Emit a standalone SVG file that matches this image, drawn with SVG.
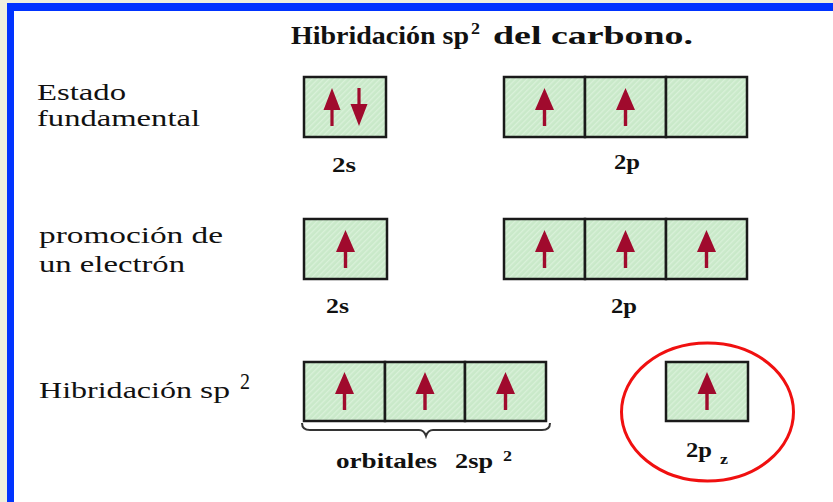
<svg xmlns="http://www.w3.org/2000/svg" xmlns:xlink="http://www.w3.org/1999/xlink" width="833" height="502" viewBox="0 0 833 502">
<style>
.lbl{font-family:"Liberation Serif","Times New Roman",serif;font-size:24px;fill:#111}
.b{font-family:"Liberation Serif","Times New Roman",serif;font-weight:bold;fill:#111}
.box{fill:url(#hatch);stroke:#1a1a1a;stroke-width:2.5}
.arr{fill:#A00A2D}
</style>
<defs>
<pattern id="hatch" width="4" height="4" patternUnits="userSpaceOnUse" patternTransform="rotate(45)">
<rect width="4" height="4" fill="#C9E9C9"/>
<rect width="1.3" height="4" fill="#D9F1D9"/>
</pattern>
<path id="up" class="arr" d="M0,-19 L9.5,3 L1.7,3 L1.7,19 L-1.7,19 L-1.7,3 L-9.5,3 Z"/>
<path id="up2" class="arr" d="M0,-19 L8.5,3 L1.6,3 L1.6,19 L-1.6,19 L-1.6,3 L-8.5,3 Z"/>
</defs>
<rect width="833" height="502" fill="#EEF0DE"/>
<rect x="7" y="3" width="826" height="499" fill="#0033FF"/>
<rect x="14" y="11" width="819" height="491" fill="#FFFFFF"/>

<g id="title">
<text class="b" font-size="26" x="291" y="44" textLength="178" lengthAdjust="spacingAndGlyphs">Hibridación sp</text>
<text class="b" font-size="16" x="471" y="34" textLength="9" lengthAdjust="spacingAndGlyphs">2</text>
<text class="b" font-size="26" x="493" y="44" textLength="200" lengthAdjust="spacingAndGlyphs">del carbono.</text>
</g>

<g id="label-estado">
<text class="lbl" x="37" y="100" textLength="89" lengthAdjust="spacingAndGlyphs">Estado</text>
<text class="lbl" x="37" y="126" textLength="163" lengthAdjust="spacingAndGlyphs">fundamental</text>
</g>
<g id="label-promocion">
<text class="lbl" x="39" y="243" textLength="184" lengthAdjust="spacingAndGlyphs">promoción de</text>
<text class="lbl" x="39" y="272" textLength="146" lengthAdjust="spacingAndGlyphs">un electrón</text>
</g>
<g id="label-hibridacion">
<text class="lbl" x="39" y="398" textLength="153" lengthAdjust="spacingAndGlyphs">Hibridación</text>
<text class="lbl" x="200" y="398" textLength="30" lengthAdjust="spacingAndGlyphs">sp</text>
<text class="lbl" font-size="15" x="240" y="389" textLength="10" lengthAdjust="spacingAndGlyphs">2</text>
</g>

<g id="row1-2s">
<rect class="box" x="304" y="77" width="82" height="60"/>
<use xlink:href="#up2" x="332" y="107"/>
<use xlink:href="#up2" transform="translate(359,107) rotate(180)"/>
<text class="b" font-size="20" x="332" y="172" textLength="24" lengthAdjust="spacingAndGlyphs">2s</text>
</g>
<g id="row1-2p">
<rect class="box" x="504" y="77" width="81" height="60"/>
<rect class="box" x="585" y="77" width="81" height="60"/>
<rect class="box" x="666" y="77" width="81" height="60"/>
<use xlink:href="#up" x="544.5" y="107"/>
<use xlink:href="#up" x="625.5" y="107"/>
<text class="b" font-size="20" x="614" y="169" textLength="26" lengthAdjust="spacingAndGlyphs">2p</text>
</g>

<g id="row2-2s">
<rect class="box" x="304" y="219" width="83" height="60"/>
<use xlink:href="#up" x="345.5" y="249"/>
<text class="b" font-size="20" x="326" y="313" textLength="23" lengthAdjust="spacingAndGlyphs">2s</text>
</g>
<g id="row2-2p">
<rect class="box" x="504" y="219" width="81" height="60"/>
<rect class="box" x="585" y="219" width="81" height="60"/>
<rect class="box" x="666" y="219" width="81" height="60"/>
<use xlink:href="#up" x="544.5" y="249"/>
<use xlink:href="#up" x="625.5" y="249"/>
<use xlink:href="#up" x="706.5" y="249"/>
<text class="b" font-size="20" x="611" y="313" textLength="26" lengthAdjust="spacingAndGlyphs">2p</text>
</g>

<g id="row3-sp2">
<rect class="box" x="304" y="362" width="81" height="59"/>
<rect class="box" x="385" y="362" width="80" height="59"/>
<rect class="box" x="465" y="362" width="81" height="59"/>
<use xlink:href="#up" x="344.5" y="391"/>
<use xlink:href="#up" x="425" y="391"/>
<use xlink:href="#up" x="505.5" y="391"/>
<path d="M302,423 Q302,430 310,430 L419,430 Q424,430 426,436 Q428,430 433,430 L542,430 Q550,430 550,423" fill="none" stroke="#333" stroke-width="2"/>
<text class="b" font-size="20" x="336" y="468" textLength="101" lengthAdjust="spacingAndGlyphs">orbitales</text>
<text class="b" font-size="20" x="455" y="468" textLength="38" lengthAdjust="spacingAndGlyphs">2sp</text>
<text class="b" font-size="15" x="503" y="461" textLength="9" lengthAdjust="spacingAndGlyphs">2</text>
</g>

<g id="row3-2pz">
<ellipse cx="707.5" cy="412" rx="86" ry="69" fill="none" stroke="#F01010" stroke-width="3"/>
<rect class="box" x="666" y="362" width="82" height="59"/>
<use xlink:href="#up" x="707" y="391"/>
<text class="b" font-size="20" x="686" y="457" textLength="26" lengthAdjust="spacingAndGlyphs">2p</text>
<text class="b" font-size="15" x="720" y="464" textLength="8" lengthAdjust="spacingAndGlyphs">z</text>
</g>
</svg>
